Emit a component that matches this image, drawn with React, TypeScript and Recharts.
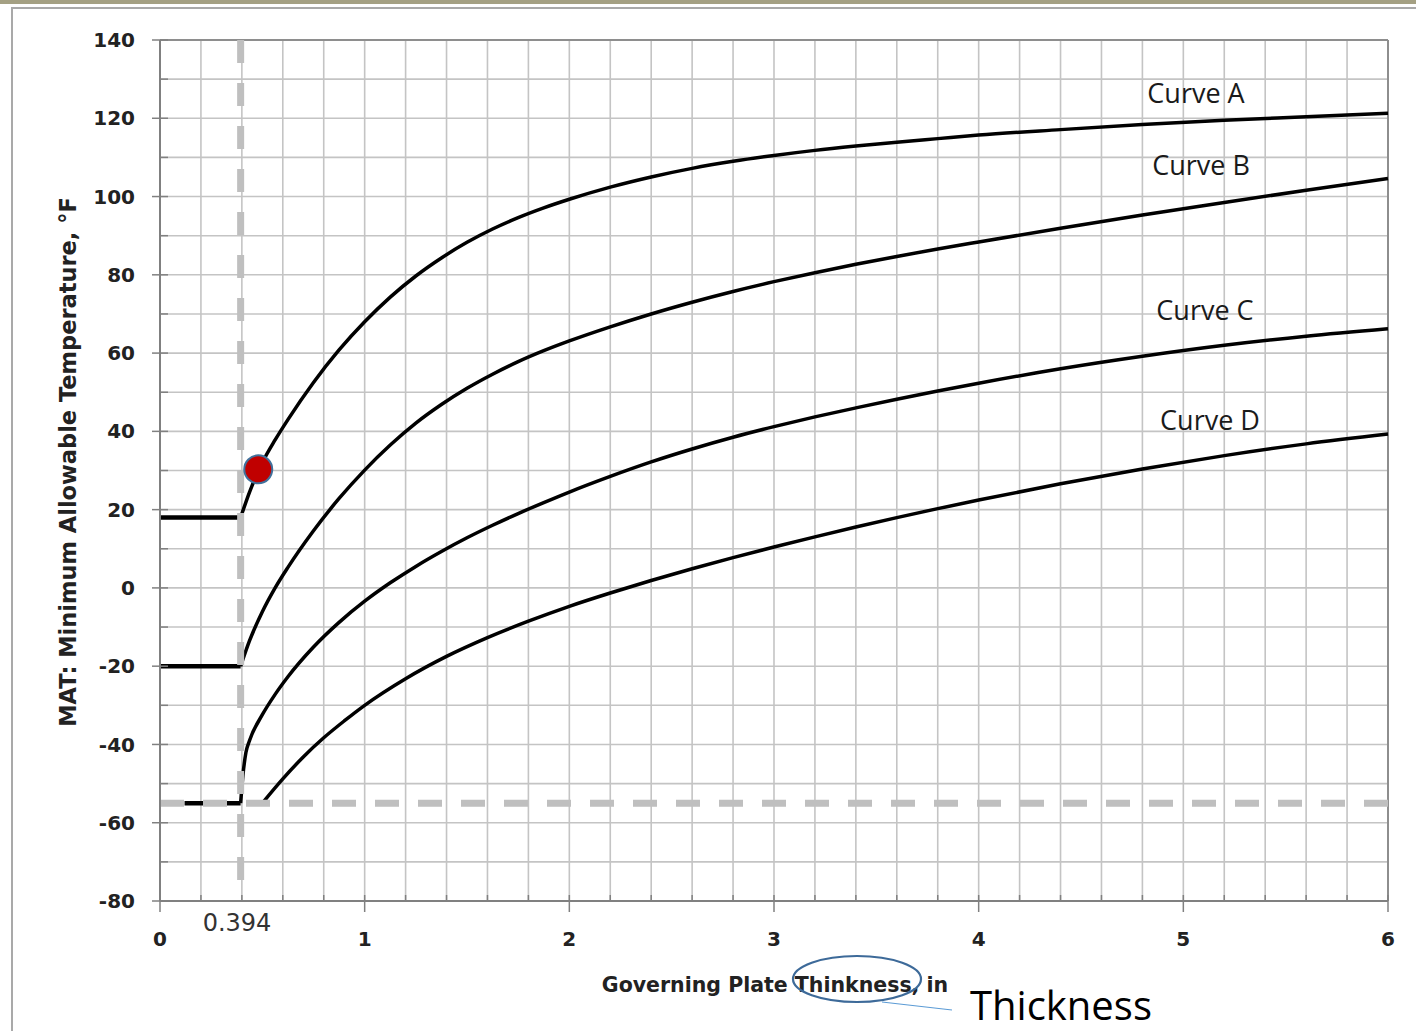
import React from 'react';
import {
  LineChart,
  Line,
  XAxis,
  YAxis,
  CartesianGrid,
  ReferenceLine,
  ReferenceDot,
} from 'recharts';

// ---- ticks (every tick gets a grid line; majors get labels) ----
const xTicks = [
  0, 0.2, 0.4, 0.6, 0.8, 1, 1.2, 1.4, 1.6, 1.8, 2, 2.2, 2.4, 2.6, 2.8, 3, 3.2, 3.4, 3.6, 3.8, 4,
  4.2, 4.4, 4.6, 4.8, 5, 5.2, 5.4, 5.6, 5.8, 6,
];
const xLabelTicks = [0, 1, 2, 3, 4, 5, 6];
const yTicks = [
  -80, -70, -60, -50, -40, -30, -20, -10, 0, 10, 20, 30, 40, 50, 60, 70, 80, 90, 100, 110, 120,
  130, 140,
];
const yLabelTicks = [-80, -60, -40, -20, 0, 20, 40, 60, 80, 100, 120, 140];

// ---- series (thickness in, MAT in °F) ----
const curveA = [
  { x: 0.394, y: 18 }, { x: 0.4375, y: 24.5 }, { x: 0.5, y: 32 }, { x: 0.5625, y: 37.8 },
  { x: 0.625, y: 43 }, { x: 0.75, y: 52.5 }, { x: 0.875, y: 60.8 }, { x: 1, y: 68 },
  { x: 1.125, y: 74.3 }, { x: 1.25, y: 79.7 }, { x: 1.375, y: 84.3 }, { x: 1.5, y: 88.3 },
  { x: 1.625, y: 91.7 }, { x: 1.75, y: 94.6 }, { x: 1.875, y: 97.1 }, { x: 2, y: 99.3 },
  { x: 2.2, y: 102.4 }, { x: 2.4, y: 105 }, { x: 2.6, y: 107.2 }, { x: 2.8, y: 109 },
  { x: 3, y: 110.5 }, { x: 3.2, y: 111.8 }, { x: 3.4, y: 112.9 }, { x: 3.6, y: 113.9 },
  { x: 3.8, y: 114.8 }, { x: 4, y: 115.7 }, { x: 4.4, y: 117.1 }, { x: 4.8, y: 118.4 },
  { x: 5.2, y: 119.5 }, { x: 5.6, y: 120.4 }, { x: 6, y: 121.3 },
];
const curveB = [
  { x: 0.394, y: -20 }, { x: 0.4375, y: -13.5 }, { x: 0.5, y: -6.1 }, { x: 0.5625, y: 0 },
  { x: 0.625, y: 5.25 }, { x: 0.75, y: 14.6 }, { x: 0.875, y: 22.85 }, { x: 1, y: 30.1 },
  { x: 1.125, y: 36.5 }, { x: 1.25, y: 42.1 }, { x: 1.375, y: 46.85 }, { x: 1.5, y: 51 },
  { x: 1.625, y: 54.6 }, { x: 1.75, y: 57.8 }, { x: 1.875, y: 60.6 }, { x: 2, y: 63.1 },
  { x: 2.2, y: 66.7 }, { x: 2.4, y: 70 }, { x: 2.6, y: 73 }, { x: 2.8, y: 75.75 },
  { x: 3, y: 78.25 }, { x: 3.2, y: 80.55 }, { x: 3.4, y: 82.7 }, { x: 3.6, y: 84.7 },
  { x: 3.8, y: 86.6 }, { x: 4, y: 88.4 }, { x: 4.4, y: 91.9 }, { x: 4.8, y: 95.3 },
  { x: 5.2, y: 98.5 }, { x: 5.6, y: 101.6 }, { x: 6, y: 104.6 },
];
const curveC = [
  { x: 0.394, y: -55 }, { x: 0.405, y: -48 }, { x: 0.42, y: -42 }, { x: 0.4375, y: -39 },
  { x: 0.5, y: -32.4 }, { x: 0.5625, y: -27.2 }, { x: 0.625, y: -22.7 }, { x: 0.75, y: -15.1 },
  { x: 0.875, y: -8.8 }, { x: 1, y: -3.4 }, { x: 1.125, y: 1.3 }, { x: 1.25, y: 5.5 },
  { x: 1.375, y: 9.3 }, { x: 1.5, y: 12.8 }, { x: 1.625, y: 16 }, { x: 1.75, y: 19 },
  { x: 1.875, y: 21.8 }, { x: 2, y: 24.5 }, { x: 2.2, y: 28.5 }, { x: 2.4, y: 32.2 },
  { x: 2.6, y: 35.5 }, { x: 2.8, y: 38.5 }, { x: 3, y: 41.2 }, { x: 3.2, y: 43.7 },
  { x: 3.4, y: 46 }, { x: 3.6, y: 48.2 }, { x: 3.8, y: 50.3 }, { x: 4, y: 52.3 },
  { x: 4.4, y: 56 }, { x: 4.8, y: 59.2 }, { x: 5.2, y: 62 }, { x: 5.6, y: 64.3 },
  { x: 6, y: 66.2 },
];
const curveD = [
  { x: 0.5, y: -55 }, { x: 0.6, y: -48.8 }, { x: 0.7, y: -43.2 }, { x: 0.8, y: -38.3 },
  { x: 0.9, y: -34 }, { x: 1, y: -30 }, { x: 1.2, y: -23.2 }, { x: 1.4, y: -17.5 },
  { x: 1.6, y: -12.7 }, { x: 1.8, y: -8.5 }, { x: 2, y: -4.7 }, { x: 2.2, y: -1.3 },
  { x: 2.4, y: 1.9 }, { x: 2.6, y: 4.9 }, { x: 2.8, y: 7.75 }, { x: 3, y: 10.45 },
  { x: 3.2, y: 13.05 }, { x: 3.4, y: 15.55 }, { x: 3.6, y: 17.95 }, { x: 3.8, y: 20.25 },
  { x: 4, y: 22.45 }, { x: 4.4, y: 26.6 }, { x: 4.8, y: 30.4 }, { x: 5.2, y: 33.8 },
  { x: 5.6, y: 36.8 }, { x: 6, y: 39.3 },
];
const flatA = [{ x: 0, y: 18 }, { x: 0.394, y: 18 }];
const flatB = [{ x: 0, y: -20 }, { x: 0.394, y: -20 }];
const flatCD = [{ x: 0.12, y: -55 }, { x: 0.394, y: -55 }];
const minThicknessLine = [{ x: 0.394, y: 140 }, { x: 0.394, y: -80 }];
const minTempLine = [{ x: 0, y: -55 }, { x: 6, y: -55 }];
const markedPoint = { x: 0.48, y: 30.3 };

const axisGray = '#808080';
const tickTextStyle = {
  fill: '#222',
  fontSize: 20,
  fontFamily: 'DejaVu Sans',
  fontWeight: 'bold' as const,
};

const isIn = (list: number[], v: number) => list.some((t) => Math.abs(t - v) < 1e-6);

// bottom axis: tickSize 11, tickMargin 20 -> text y = axisY + 31
const XTick = (props: any) => {
  const { x, y, payload } = props;
  const v = payload.value as number;
  const axisY = y - 31;
  const major = isIn(xLabelTicks, v);
  return (
    <g>
      <line
        x1={x}
        x2={x}
        y1={axisY - 6}
        y2={major ? axisY + 11 : axisY}
        stroke={axisGray}
        strokeWidth={1.5}
      />
      {major && (
        <text x={x} y={y} dy="0.71em" textAnchor="middle" {...tickTextStyle}>
          {v}
        </text>
      )}
    </g>
  );
};

// left axis: tickSize 8, tickMargin 17 -> text x = axisX - 25
const YTick = (props: any) => {
  const { x, y, payload } = props;
  const v = payload.value as number;
  const axisX = x + 25;
  const major = isIn(yLabelTicks, v);
  return (
    <g>
      <line
        x1={major ? axisX - 8 : axisX}
        x2={axisX + 8}
        y1={y}
        y2={y}
        stroke={axisGray}
        strokeWidth={1.5}
      />
      {major && (
        <text x={x} y={y} dy="0.355em" textAnchor="end" {...tickTextStyle}>
          {v}
        </text>
      )}
    </g>
  );
};

export default function App() {
  const lineProps = {
    type: 'monotone' as const,
    dataKey: 'y',
    stroke: '#000',
    strokeWidth: 3.5,
    dot: false,
    activeDot: false,
    isAnimationActive: false,
    legendType: 'none' as const,
  };
  return (
    <div
      style={{
        position: 'absolute',
        left: 0,
        top: 0,
        width: 1416,
        height: 1031,
        background: '#fff',
        overflow: 'hidden',
      }}
    >
      <div style={{ position: 'absolute', left: 0, top: 0, width: 1416, height: 4, background: '#a4a083' }} />
      <div
        style={{
          position: 'absolute',
          left: 11,
          top: 7,
          width: 1420,
          height: 1040,
          borderTop: '2px solid #a9a9a9',
          borderLeft: '2px solid #a9a9a9',
        }}
      />
      <div style={{ position: 'absolute', left: 0, top: 0 }}>
        <LineChart width={1416} height={1031} margin={{ top: 40, right: 28, bottom: 0, left: 0 }}>
          <CartesianGrid stroke="#c4c4c4" strokeWidth={1.6} />
          <XAxis
            type="number"
            dataKey="x"
            domain={[0, 6]}
            ticks={xTicks}
            interval={0}
            height={130}
            tickSize={11}
            tickMargin={20}
            tick={<XTick />}
            tickLine={false}
            axisLine={{ stroke: axisGray, strokeWidth: 2 }}
          />
          <YAxis
            type="number"
            domain={[-80, 140]}
            ticks={yTicks}
            interval={0}
            width={160}
            tickSize={8}
            tickMargin={17}
            tick={<YTick />}
            tickLine={false}
            axisLine={{ stroke: axisGray, strokeWidth: 2 }}
          />
          <ReferenceLine y={140} stroke="#8e8e8e" strokeWidth={2} />
          <ReferenceLine x={6} stroke="#8e8e8e" strokeWidth={2} />

          <Line {...lineProps} data={flatA} strokeWidth={4.5} type="linear" />
          <Line {...lineProps} data={flatB} strokeWidth={4.5} type="linear" />
          <Line {...lineProps} data={flatCD} strokeWidth={4.5} type="linear" />
          <Line {...lineProps} data={curveA} />
          <Line {...lineProps} data={curveB} />
          <Line {...lineProps} data={curveC} />
          <Line {...lineProps} data={curveD} />

          <ReferenceLine
            segment={minTempLine}
            stroke="#bfbfbf"
            strokeWidth={7}
            strokeDasharray="24 19"
          />
          <ReferenceLine
            segment={minThicknessLine}
            stroke="#bfbfbf"
            strokeWidth={7}
            strokeDasharray="23 20"
          />
          <ReferenceDot
            x={markedPoint.x}
            y={markedPoint.y}
            r={14}
            fill="#c00000"
            stroke="#41719c"
            strokeWidth={2}
          />
        </LineChart>
      </div>
      <svg
        width={1416}
        height={1031}
        style={{ position: 'absolute', left: 0, top: 0, pointerEvents: 'none' }}
      >
        <g fontFamily="Open Sans" fontSize={27} fill="#1a1a1a" textAnchor="middle">
          <text x={1196} y={103}>Curve A</text>
          <text x={1201} y={175}>Curve B</text>
          <text x={1205} y={320}>Curve C</text>
          <text x={1210} y={430}>Curve D</text>
        </g>
        <text x={237} y={931} textAnchor="middle" fontFamily="DejaVu Sans" fontSize={24} fill="#333">
          0.394
        </text>
        <text
          x={775}
          y={992}
          textAnchor="middle"
          fontFamily="DejaVu Sans"
          fontWeight="bold"
          fontSize={20.5}
          fill="#222"
        >
          Governing Plate Thinkness, in
        </text>
        <text
          transform="translate(76,462) rotate(-90)"
          textAnchor="middle"
          fontFamily="DejaVu Sans"
          fontWeight="bold"
          fontSize={22.5}
          fill="#222"
        >
          MAT: Minimum Allowable Temperature, °F
        </text>
        <ellipse cx={857} cy={979} rx={64} ry={23} fill="none" stroke="#3d6a99" strokeWidth={2.2} />
        <line x1={882} y1={1002} x2={952} y2={1010} stroke="#5b9bd5" strokeWidth={1.2} />
        <text x={970} y={1020} fontFamily="Open Sans" fontSize={40} fill="#000">
          Thickness
        </text>
      </svg>
    </div>
  );
}
